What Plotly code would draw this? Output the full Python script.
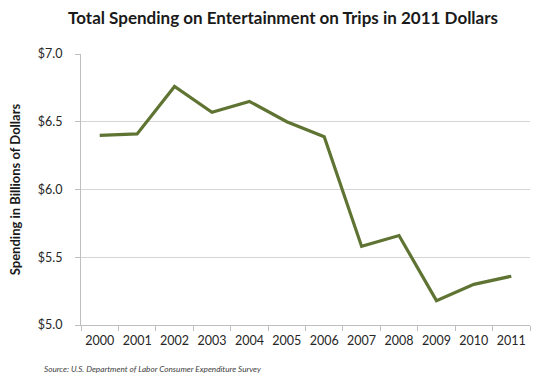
import plotly.graph_objects as go

years = ["2000", "2001", "2002", "2003", "2004", "2005", "2006", "2007", "2008", "2009", "2010", "2011"]
spending = [6.40, 6.41, 6.76, 6.57, 6.65, 6.50, 6.39, 5.58, 5.66, 5.18, 5.30, 5.36]
y_ticks = [5.0, 5.5, 6.0, 6.5, 7.0]
y_tick_labels = ["$5.0", "$5.5", "$6.0", "$6.5", "$7.0"]

FONT = "Lato, 'Open Sans', sans-serif"

fig = go.Figure()
fig.add_trace(go.Scatter(
    x=years, y=spending, mode="lines",
    line=dict(color="#5f7432", width=3.2),
    hoverinfo="skip", showlegend=False,
))

fig.update_layout(
    width=540, height=375,
    margin=dict(l=81, r=10, t=54, b=50),
    paper_bgcolor="white", plot_bgcolor="white",
    font=dict(family=FONT, color="#262626"),
    title=dict(
        text="<b>Total Spending on Entertainment on Trips in 2011 Dollars</b>",
        xref="paper", x=0.45, xanchor="center", y=0.952, yanchor="middle",
        font=dict(size=17, family=FONT, color="#1a1a1a"),
    ),
    xaxis=dict(
        type="category", range=[-0.5, 11.5],
        showgrid=False, showline=True, linecolor="#bfbfbf", linewidth=1,
        ticks="outside", tickson="boundaries", ticklen=5, tickcolor="#bfbfbf",
        ticklabelstandoff=4, tickangle=0,
        tickfont=dict(size=12.5, color="#262626"),
    ),
    yaxis=dict(
        range=[5.0, 7.0], tickvals=y_ticks, ticktext=y_tick_labels,
        showgrid=True, gridcolor="#d4d4d4", gridwidth=1,
        showline=True, linecolor="#bfbfbf", linewidth=1,
        ticks="outside", ticklen=5, tickcolor="#bfbfbf",
        ticklabelstandoff=10,
        tickfont=dict(size=12.5, color="#262626"),
        zeroline=False,
        title=dict(text="<b>Spending in Billions of Dollars</b>", font=dict(size=13, color="#1a1a1a"), standoff=14),
    ),
    annotations=[dict(
        text="<i>Source: U.S. Department of Labor Consumer Expenditure Survey</i>",
        xref="paper", yref="paper", x=-0.087, y=-0.135, xanchor="left", yanchor="top",
        showarrow=False, font=dict(size=8.2, color="#404040", family=FONT),
    )],
)

fig.write_html("out.html", config={"displayModeBar": False},
               post_script="document.body.style.margin='0';document.body.style.padding='0';")
